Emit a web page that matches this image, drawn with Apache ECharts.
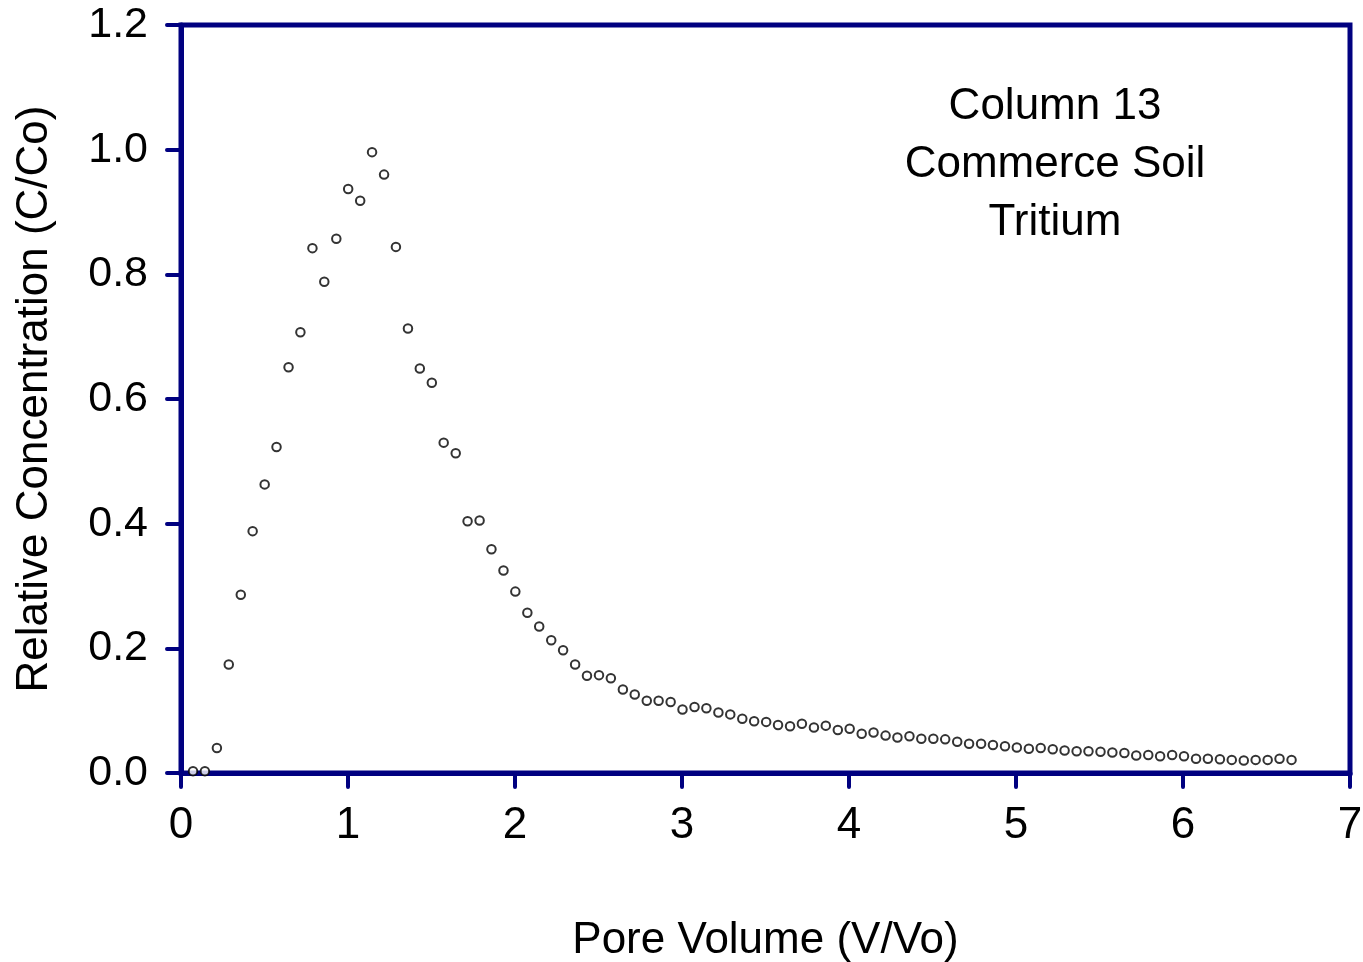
<!DOCTYPE html>
<html>
<head>
<meta charset="utf-8">
<title>Column 13 Commerce Soil Tritium</title>
<script src="https://cdn.jsdelivr.net/npm/echarts@6/dist/echarts.min.js"></script>
<style>
  html, body { margin: 0; padding: 0; background: #fff; }
  #chart { width: 1363px; height: 962px; }
</style>
</head>
<body>
<div id="chart"></div>
<script>
// Breakthrough curve: pore volumes eluted and relative concentration C/Co
const poreVolume = [
  0.072, 0.143, 0.215, 0.286, 0.358, 0.429, 0.501, 0.572, 0.644, 0.715,
  0.787, 0.858, 0.930, 1.001, 1.073, 1.144, 1.216, 1.287, 1.359, 1.430,
  1.502, 1.573, 1.645, 1.716, 1.788, 1.859, 1.931, 2.002, 2.074, 2.145,
  2.217, 2.288, 2.360, 2.431, 2.503, 2.574, 2.646, 2.717, 2.789, 2.860,
  2.932, 3.003, 3.075, 3.146, 3.218, 3.289, 3.361, 3.432, 3.504, 3.575,
  3.647, 3.718, 3.790, 3.861, 3.933, 4.004, 4.076, 4.147, 4.219, 4.290,
  4.362, 4.433, 4.505, 4.576, 4.648, 4.719, 4.791, 4.862, 4.934, 5.005,
  5.077, 5.148, 5.220, 5.291, 5.363, 5.434, 5.506, 5.577, 5.649, 5.720,
  5.792, 5.863, 5.935, 6.006, 6.078, 6.149, 6.221, 6.292, 6.364, 6.435,
  6.507, 6.578, 6.650
];
const relConc = [
  0.003, 0.003, 0.040, 0.174, 0.286, 0.388, 0.463, 0.523, 0.651, 0.707,
  0.842, 0.788, 0.857, 0.937, 0.918, 0.996, 0.960, 0.844, 0.713, 0.649,
  0.626, 0.530, 0.513, 0.404, 0.405, 0.359, 0.325, 0.291, 0.257, 0.235,
  0.213, 0.197, 0.174, 0.156, 0.157, 0.152, 0.134, 0.126, 0.116, 0.116,
  0.114, 0.102, 0.106, 0.104, 0.097, 0.094, 0.087, 0.083, 0.082, 0.077,
  0.075, 0.079, 0.073, 0.076, 0.069, 0.071, 0.063, 0.065, 0.060, 0.057,
  0.059, 0.055, 0.055, 0.054, 0.050, 0.047, 0.047, 0.045, 0.043, 0.041,
  0.039, 0.040, 0.038, 0.036, 0.035, 0.035, 0.034, 0.033, 0.032, 0.028,
  0.029, 0.027, 0.029, 0.027, 0.023, 0.023, 0.022, 0.021, 0.020, 0.021,
  0.021, 0.023, 0.021
];
const annotationLines = ['Column 13', 'Commerce Soil', 'Tritium'];
const xTitle = 'Pore Volume (V/Vo)';
const yTitle = 'Relative Concentration (C/Co)';

const NAVY = '#000080';
const FONT = '"Liberation Sans", Arial, sans-serif';

const points = poreVolume.map((x, i) => [x, relConc[i]]);

const chart = echarts.init(document.getElementById('chart'), null, { renderer: 'canvas' });
chart.setOption({
  backgroundColor: '#ffffff',
  animation: false,
  grid: {
    left: 181, top: 25, right: 13, bottom: 189,
    containLabel: false,
    outerBoundsMode: 'none',
    show: true, borderColor: NAVY, borderWidth: 5, backgroundColor: 'transparent'
  },
  xAxis: {
    type: 'value', min: 0, max: 7, interval: 1,
    name: xTitle, nameLocation: 'middle', nameGap: 146,
    nameTextStyle: { fontFamily: FONT, fontSize: 44, color: '#000' },
    axisLine: { show: true, onZero: false, lineStyle: { color: NAVY, width: 5 } },
    axisTick: { show: true, inside: false, length: 14, lineStyle: { color: NAVY, width: 4, cap: 'round' } },
    axisLabel: { margin: 31, fontFamily: FONT, fontSize: 44, color: '#000' },
    splitLine: { show: false }
  },
  yAxis: {
    type: 'value', min: 0, max: 1.2, interval: 0.2,
    name: yTitle, nameLocation: 'middle', nameRotate: 90, nameGap: 124,
    nameTextStyle: { fontFamily: FONT, fontSize: 44, color: '#000' },
    axisLine: { show: true, onZero: false, lineStyle: { color: NAVY, width: 5 } },
    axisTick: { show: true, inside: false, length: 14, lineStyle: { color: NAVY, width: 4, cap: 'round' } },
    axisLabel: {
      margin: 33, fontFamily: FONT, fontSize: 43, color: '#000',
      formatter: v => v.toFixed(1)
    },
    splitLine: { show: false }
  },
  graphic: [{
    type: 'text',
    x: 1055, y: 78,
    style: {
      text: annotationLines.join('\n'),
      align: 'center',
      verticalAlign: 'top',
      fontFamily: FONT, fontSize: 44, lineHeight: 58, fill: '#000'
    }
  }],
  series: [{
    type: 'scatter',
    data: points,
    symbol: 'circle',
    symbolSize: 8.5,
    itemStyle: { color: '#ffffff', borderColor: '#000000', borderWidth: 2 },
    emphasis: { disabled: true }
  }]
});
</script>
</body>
</html>
